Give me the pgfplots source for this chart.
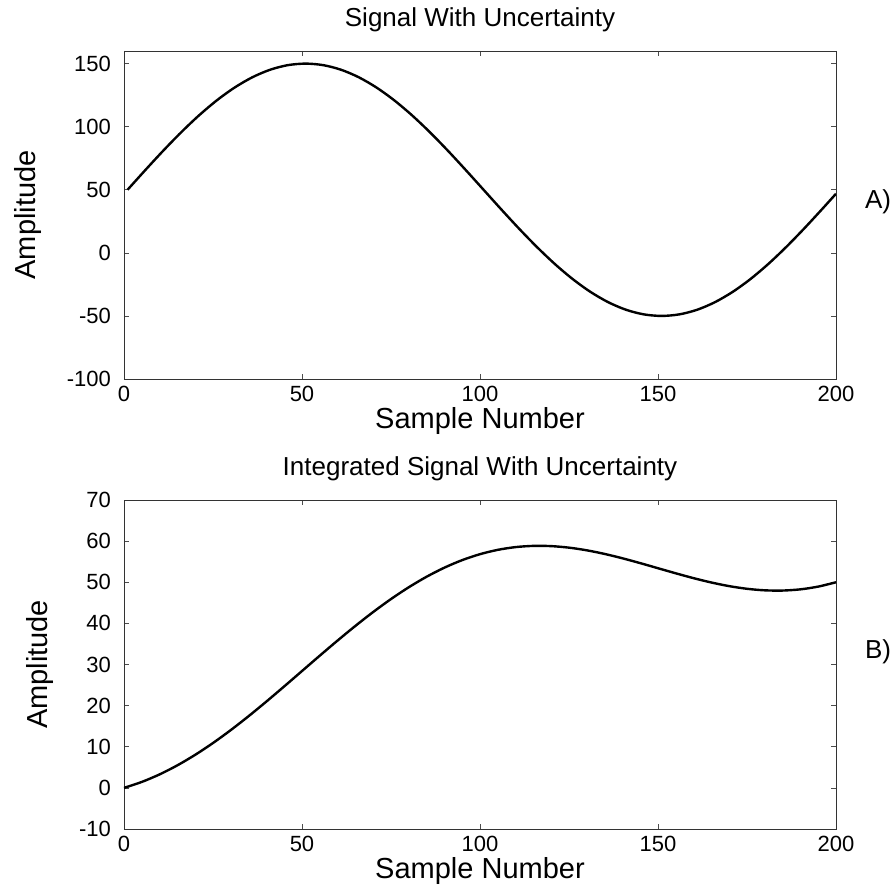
\documentclass[border=0pt]{standalone}
\usepackage{fontspec}
\setmainfont{Liberation Sans}
\usepackage{pgfplots}
\pgfplotsset{compat=1.18}
\begin{document}
\begin{tikzpicture}
\path[use as bounding box] (0,0) rectangle (448pt,445pt);
\pgfplotsset{
  myax/.style={
    scale only axis, width=356pt, height=164pt,
    xmin=0, xmax=200, xtick={0,50,...,200},
    tick align=inside, tick pos=both, major tick length=2.5pt,
    axis line style={line width=0.4pt, black!80},
    every tick/.style={black!70, line width=0.3pt},
    /pgf/number format/assume math mode=true,
    tick label style={font=\fontsize{11}{12}\selectfont},
    label style={font=\fontsize{14.5}{16}\selectfont},
    title style={font=\fontsize{13}{15}\selectfont},
    xlabel={Sample Number}, ylabel={Amplitude},
    xlabel style={yshift=4pt},
    ylabel style={yshift=6pt},
    yticklabel style={xshift=-3pt},
    clip=true,
  }
}
\begin{axis}[myax, at={(62pt,255.5pt)}, anchor=south west,
  ymin=-100, ymax=160, ytick={-100,-50,...,150},
  title={Signal With Uncertainty}]
\addplot[black, line width=1.2pt, smooth] coordinates {
(1,50) (6,65.64) (11,80.90) (16,95.40) (21,108.78) (26,120.71) (31,130.90) (36,139.10) (41,145.11) (46,148.77)
(51,150) (56,148.77) (61,145.11) (66,139.10) (71,130.90) (76,120.71) (81,108.78) (86,95.40) (91,80.90) (96,65.64)
(101,50) (106,34.36) (111,19.10) (116,4.60) (121,-8.78) (126,-20.71) (131,-30.90) (136,-39.10) (141,-45.11) (146,-48.77)
(151,-50) (156,-48.77) (161,-45.11) (166,-39.10) (171,-30.90) (176,-20.71) (181,-8.78) (186,4.60) (191,19.10) (196,34.36)
(200,46.86)
};
\end{axis}
\begin{axis}[myax, at={(62pt,30.5pt)}, anchor=south west, height=164.5pt,
  ymin=-10, ymax=70, ytick={-10,0,...,70},
  title={Integrated Signal With Uncertainty}]
\addplot[black, line width=1.2pt, smooth] coordinates {
(0,0) (5,1.446) (10,3.278) (15,5.485) (20,8.040) (25,10.912) (30,14.060) (35,17.440) (40,20.997) (45,24.676)
(50,28.415) (55,32.154) (60,35.833) (65,39.390) (70,42.770) (75,45.918) (80,48.790) (85,51.345) (90,53.552) (95,55.384)
(100,56.830) (105,57.884) (110,58.552) (115,58.845) (120,58.790) (125,58.418) (130,57.770) (135,56.890) (140,55.833) (145,54.654)
(150,53.415) (155,52.176) (160,50.997) (165,49.940) (170,49.060) (175,48.412) (180,48.040) (185,47.985) (190,48.278) (195,48.946)
(200,50)
};
\end{axis}
\node[font=\fontsize{13}{15}\selectfont] at (439pt,344pt) {A)};
\node[font=\fontsize{13}{15}\selectfont] at (439pt,119pt) {B)};
\end{tikzpicture}
\end{document}
